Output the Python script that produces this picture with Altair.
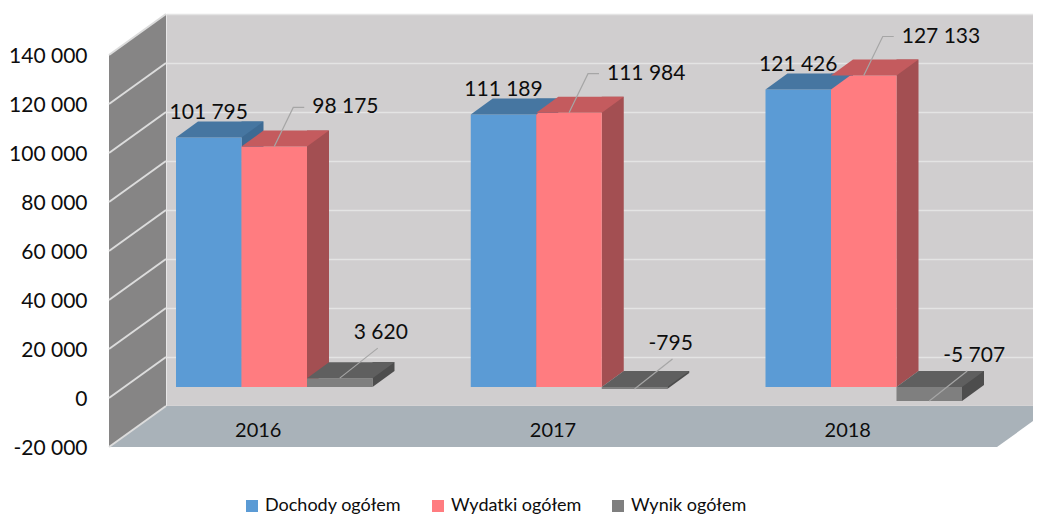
import altair as alt
import pandas as pd

# ---------------- data ----------------
YEARS = ["2016", "2017", "2018"]
SERIES = ["Dochody ogółem", "Wydatki ogółem", "Wynik ogółem"]
DOCHODY = [101795, 111189, 121426]
WYDATKI = [98175, 111984, 127133]
WYNIK = [3620, -795, -5707]
Y_TICKS = [-20000, 0, 20000, 40000, 60000, 80000, 100000, 120000, 140000]

# ---------------- styles ----------------
FRONT = ["#5B9BD5", "#FF7C80", "#7F7F7F"]
TOP = ["#4676A1", "#C45B5E", "#5F5F5F"]
SIDE = ["#3D6A93", "#A34F52", "#4D4D4D"]
WALL_BACK = "#D0CECF"
WALL_SIDE = "#868585"
FLOOR = "#A9B2B9"
GRID = "#E4E4E4"
LEADER = "#A6A6A6"
FONT = "Lato"

W, H = 867, 392            # back wall (plot area)
DEPTH_X, DEPTH_Y = 57, 41  # depth of the walls / floor
BY = 30                    # bar plane offset (down) from back wall
BAR_DX, BAR_DY = 22, 16    # bar depth
HW = 32.75                 # half bar width
STEP = 9 * HW              # category step (3 bars + gap of 1.5 bars)
PAD_OUT = (W / STEP - (3 - 1 / 3)) / 2
GROUP_START = 10           # px from the back wall edge to first bar (bar plane)
ALIGN = GROUP_START / (W - STEP * (3 - 1 / 3))

rows = []
for s, vals in zip(SERIES, [DOCHODY, WYDATKI, WYNIK]):
    for yr, v in zip(YEARS, vals):
        rows.append({"year": yr, "series": s, "value": v,
                     "top": max(v, 0), "bot": min(v, 0)})
df = pd.DataFrame(rows)
ticks_df = pd.DataFrame({"tick": Y_TICKS})
one = pd.DataFrame({"k": [0]})

Y_SCALE = alt.Scale(domain=[Y_TICKS[0], Y_TICKS[-1]], nice=False, zero=False)
Y_AXIS = alt.Axis(values=Y_TICKS, grid=True, gridColor=GRID, gridWidth=1.5,
                  ticks=False, domain=False, labelPadding=79, labelOffset=42,
                  labelFontSize=21, labelFlush=False, labelColor="#0D0D0D",
                  title=None)
X_SCALE = alt.Scale(paddingInner=1 / 3, paddingOuter=PAD_OUT, align=ALIGN, round=False)
X_AXIS = alt.Axis(labelOffset=-16, labelPadding=24, ticks=False, domain=False,
                  labelFontSize=20, labelAngle=0, labelBaseline="middle",
                  labelColor="#0D0D0D", title=None, zindex=1)


def X():
    return alt.X("year:N", sort=YEARS, scale=X_SCALE, axis=X_AXIS)


def XO(rng=None):
    if rng is None:
        sc = alt.Scale(type="band", paddingInner=0, paddingOuter=0)
    else:
        sc = alt.Scale(type="band", paddingInner=0, paddingOuter=0, range=rng)
    return alt.XOffset("series:N", sort=SERIES, scale=sc)


def Y(field):
    return alt.Y(f"{field}:Q", scale=Y_SCALE, axis=Y_AXIS)


def shape_layer(data, path, fill, x, y):
    return alt.Chart(data).mark_point(
        shape=path, size=4, filled=True, fill=fill, stroke="transparent",
        strokeWidth=0, opacity=1
    ).encode(x=x, y=y)


# ---- 3D frame ----
floor_path = f"M0,0 H{W + 21} L{W + 21 - DEPTH_X},{DEPTH_Y} H{-DEPTH_X} Z"
floor = shape_layer(one, floor_path, FLOOR, alt.value(0),
                    alt.Y(datum=Y_TICKS[0], scale=Y_SCALE, axis=Y_AXIS))

side_path = f"M0,0 V{H} L{-DEPTH_X},{H + DEPTH_Y} V{DEPTH_Y} Z"
side_wall = shape_layer(one, side_path, WALL_SIDE, alt.value(0),
                        alt.Y(datum=Y_TICKS[-1], scale=Y_SCALE, axis=Y_AXIS))

side_lines = alt.Chart(ticks_df).mark_point(
    shape=f"M0,0 L{-DEPTH_X},{DEPTH_Y}", size=4, filled=False,
    stroke="#DCDCDC", strokeWidth=2, opacity=1
).encode(x=alt.value(0), y=Y("tick"))

# ---- bars ----
sub_bw = 2 * HW
bar_sides = alt.Chart(df).mark_bar(
    width=BAR_DX, yOffset=BY - BAR_DY, y2Offset=BY - BAR_DY
).encode(
    x=X(), xOffset=XO([HW + BAR_DX / 2, HW + BAR_DX / 2 + 3 * sub_bw]),
    y=Y("top"), y2="bot:Q",
    fill=alt.Fill("series:N", sort=SERIES,
                  scale=alt.Scale(domain=SERIES, range=SIDE), legend=None)
)

tri_path = f"M{HW},{-BAR_DY} L{HW},0 L{HW + BAR_DX},{-BAR_DY} Z"
side_tris = alt.Chart(df).mark_point(
    shape=tri_path, size=4, filled=True, strokeWidth=0, opacity=1, yOffset=BY
).encode(
    x=X(), xOffset=XO(), y=Y("bot"),
    fill=alt.Fill("series:N", sort=SERIES,
                  scale=alt.Scale(domain=SERIES, range=SIDE), legend=None)
)

fronts = alt.Chart(df).mark_bar(yOffset=BY, y2Offset=BY).encode(
    x=X(), xOffset=XO(), y=Y("value"),
    color=alt.Color("series:N", sort=SERIES,
                    scale=alt.Scale(domain=SERIES, range=FRONT),
                    legend=alt.Legend(orient="none", legendX=77, legendY=483,
                                      direction="horizontal", title=None,
                                      symbolType="square", symbolSize=144,
                                      symbolStrokeWidth=0, labelFontSize=18,
                                      labelFont=FONT, labelColor="#0D0D0D",
                                      labelOffset=4, columnPadding=27,
                                      padding=0))
)

top_path = f"M{-HW},0 L{HW},0 L{HW + BAR_DX},{-BAR_DY} L{-HW + BAR_DX},{-BAR_DY} Z"
tops = alt.Chart(df).mark_point(
    shape=top_path, size=4, filled=True, strokeWidth=0, opacity=1, yOffset=BY
).encode(
    x=X(), xOffset=XO(), y=Y("top"),
    fill=alt.Fill("series:N", sort=SERIES,
                  scale=alt.Scale(domain=SERIES, range=TOP), legend=None)
)

# ---- labels ----
lab_blue = alt.Chart(df).transform_filter(
    alt.datum.series == SERIES[0]
).mark_text(
    font=FONT, fontSize=21, color="#0D0D0D", align="center", baseline="middle",
    dy=BY - 25
).encode(x=X(), xOffset=XO(), y=Y("top"), text=alt.Text("value:Q", format=","))

lead_red = alt.Chart(df).transform_filter(
    alt.datum.series == SERIES[1]
).mark_point(
    shape="M0,0 L19,-39 L30,-39", size=4, filled=False, stroke=LEADER,
    strokeWidth=1.2, opacity=1, yOffset=BY
).encode(x=X(), xOffset=XO(), y=Y("value"))

lab_red = alt.Chart(df).transform_filter(
    alt.datum.series == SERIES[1]
).mark_text(
    font=FONT, fontSize=21, color="#0D0D0D", align="left", baseline="middle",
    dx=38, dy=BY - 39
).encode(x=X(), xOffset=XO(), y=Y("value"), text=alt.Text("value:Q", format=","))

lead_gray = alt.Chart(df).transform_filter(
    alt.datum.series == SERIES[2]
).mark_point(
    shape="M0,0 L38,-30", size=4, filled=False, stroke=LEADER,
    strokeWidth=1.2, opacity=1, yOffset=BY
).encode(x=X(), xOffset=XO(), y=Y("value"))

lab_gray = alt.Chart(df).transform_filter(
    alt.datum.series == SERIES[2]
).mark_text(
    font=FONT, fontSize=21, color="#0D0D0D", align="left", baseline="middle",
    dx=14, dy=BY - 45
).encode(x=X(), xOffset=XO(), y=Y("value"), text=alt.Text("value:Q", format=","))

back = alt.layer(floor, side_wall, side_lines, bar_sides)
front = alt.layer(
    side_tris, fronts, tops, lab_blue, lead_red, lab_red, lead_gray, lab_gray
).resolve_scale(fill="independent")

chart = alt.layer(back, front).resolve_scale(
    fill="independent", xOffset="independent"
).properties(
    width=W, height=H,
    autosize=alt.AutoSizeParams(type="none"),
    padding={"left": 158, "top": 6, "right": 0, "bottom": 109},
    background="white"
).configure(
    font=FONT,
    locale={"number": {"decimal": ",", "thousands": " ", "grouping": [3],
                       "currency": ["", " zł"], "minus": "-"}}
).configure_view(
    fill=WALL_BACK, stroke="transparent"
)

chart.save("out.html", embed_options={"renderer": "svg", "actions": False})
